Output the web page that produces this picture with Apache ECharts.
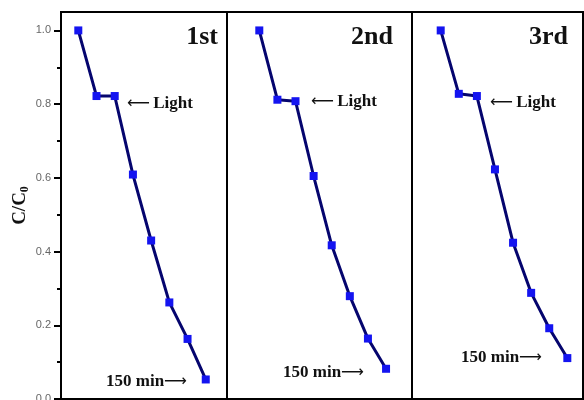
<!DOCTYPE html>
<html>
<head>
<meta charset="utf-8">
<script src="https://cdn.jsdelivr.net/npm/echarts@6/dist/echarts.min.js"></script>
<style>
html, body { margin: 0; padding: 0; background: #fff; }
#chart { width: 584px; height: 400px; }
</style>
</head>
<body>
<div id="chart"></div>
<script>
'use strict'

// irradiation time (min), dark stage before 0
var times = [-60, -30, 0, 30, 60, 90, 120, 150];
var run1 = [1.0, 0.822, 0.822, 0.609, 0.430, 0.262, 0.163, 0.053];
var run2 = [1.0, 0.812, 0.808, 0.605, 0.417, 0.279, 0.164, 0.082];
var run3 = [1.0, 0.828, 0.822, 0.623, 0.424, 0.288, 0.192, 0.111];
var runNames = ['1st', '2nd', '3rd'];
var yMajorTicks = [0, 0.2, 0.4, 0.6, 0.8, 1.0];
var yMinorTicks = [0.1, 0.3, 0.5, 0.7, 0.9];

var serif = '"Liberation Serif", "Times New Roman", serif';
var lineColor = '#05056e';
var markColor = '#1414f0';

function pairs(ys) {
    var out = [];
    for (var i = 0; i < times.length; i++) {
        out.push([times[i], ys[i]]);
    }
    return out;
}

var grids = [
    {left: 61, width: 166, top: 12, bottom: 1},
    {left: 227, width: 185, top: 12, bottom: 1},
    {left: 412, width: 171, top: 12, bottom: 1}
];
var xRanges = [[-88.5, 185], [-113.5, 193], [-107.6, 176]];
var runs = [run1, run2, run3];

var option = {
    animation: false,
    backgroundColor: '#fff',
    grid: [],
    xAxis: [],
    yAxis: [],
    series: [],
    graphic: []
};

for (var i = 0; i < 3; i++) {
    option.grid.push({
        left: grids[i].left, width: grids[i].width, top: grids[i].top, bottom: grids[i].bottom,
        outerBoundsMode: 'none', containLabel: false,
        show: true, borderColor: '#000', borderWidth: 2, backgroundColor: 'transparent'
    });
    option.xAxis.push({
        type: 'value', gridIndex: i, min: xRanges[i][0], max: xRanges[i][1], show: false,
        axisLine: {onZero: false}
    });
    option.yAxis.push({
        type: 'value', gridIndex: i, min: 0, max: 1.05, show: i === 0,
        splitLine: {show: false},
        axisLine: {show: true, onZero: false, lineStyle: {color: '#000', width: 2}},
        axisTick: {show: true, inside: false, length: 7, customValues: yMajorTicks,
            lineStyle: {color: '#000', width: 2}},
        axisLabel: {show: true, customValues: yMajorTicks, margin: 10, color: '#666',
            fontSize: 11, fontFamily: '"Liberation Sans Narrow", "Liberation Sans", sans-serif',
            formatter: function (v) { return v.toFixed(1); }},
        name: i === 0 ? '{m|C/C}{s|0}' : '',
        nameLocation: 'middle',
        nameGap: 30,
        nameRotate: 90,
        nameTextStyle: {
            rich: {
                m: {fontFamily: serif, fontWeight: 'bold', fontSize: 19, color: '#111', lineHeight: 22},
                s: {fontFamily: serif, fontWeight: 'bold', fontSize: 12, color: '#111',
                    verticalAlign: 'bottom', lineHeight: 22, padding: [9, 0, 0, 0]}
            }
        }
    });
    option.series.push({
        type: 'line', xAxisIndex: i, yAxisIndex: i,
        data: pairs(runs[i]),
        symbol: 'rect', symbolSize: 8,
        itemStyle: {color: markColor},
        lineStyle: {color: lineColor, width: 3},
        z: 3
    });
}

// minor ticks on the left axis
option.yAxis.push({
    type: 'value', gridIndex: 0, min: 0, max: 1.05, position: 'left', offset: 0,
    splitLine: {show: false},
    axisLine: {show: false, onZero: false},
    axisLabel: {show: false},
    axisTick: {show: true, inside: false, length: 4, customValues: yMinorTicks,
        lineStyle: {color: '#000', width: 2}}
});

var titleRight = [218, 393, 568];
for (var k = 0; k < 3; k++) {
    option.graphic.push({
        type: 'text', x: titleRight[k], y: 37,
        style: {text: runNames[k], textAlign: 'right', textVerticalAlign: 'middle',
            font: 'bold 26px ' + serif, fill: '#111'}
    });
}

var lightPos = [[127, 104], [311, 102], [490, 103]];
for (var k = 0; k < 3; k++) {
    option.graphic.push({
        type: 'text', x: lightPos[k][0], y: lightPos[k][1],
        style: {
            text: '{a|\u27f5} {t|Light}',
            textVerticalAlign: 'middle',
            rich: {
                a: {font: '16px "DejaVu Sans"', fill: '#111'},
                t: {font: 'bold 17px ' + serif, fill: '#111'}
            }
        }
    });
}

var endPos = [[106, 382], [283, 373], [461, 358]];
for (var k = 0; k < 3; k++) {
    option.graphic.push({
        type: 'text', x: endPos[k][0], y: endPos[k][1],
        style: {
            text: '{t|150 min}{a|\u27f6}',
            textVerticalAlign: 'middle',
            rich: {
                a: {font: '16px "DejaVu Sans"', fill: '#111'},
                t: {font: 'bold 17px ' + serif, fill: '#111'}
            }
        }
    });
}

var chart = echarts.init(document.getElementById('chart'), null, {renderer: 'canvas'});
chart.setOption(option);
</script>
</body>
</html>
